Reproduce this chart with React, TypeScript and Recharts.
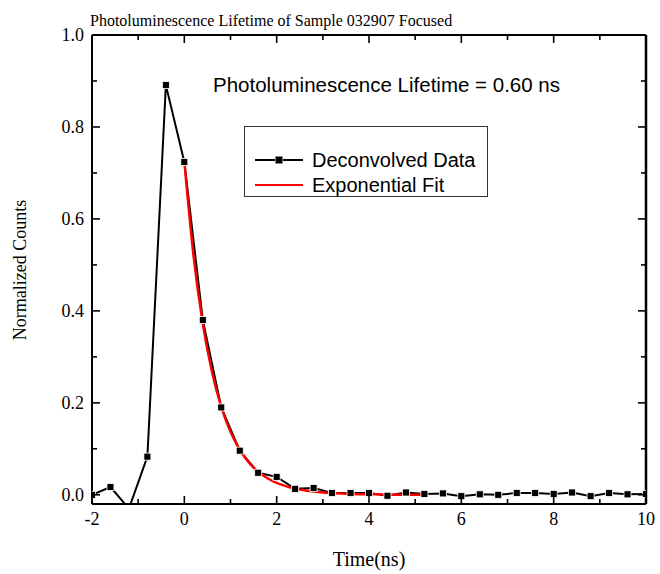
import { LineChart, Line, XAxis, YAxis } from 'recharts';

// deconvolved decay, sampled every 0.4 ns
const dataTimes = [-2, -1.6, -1.2, -0.8, -0.4, 0, 0.4, 0.8, 1.2, 1.6, 2, 2.4, 2.8, 3.2, 3.6, 4, 4.4, 4.8, 5.2, 5.6, 6, 6.4, 6.8, 7.2, 7.6, 8, 8.4, 8.8, 9.2, 9.6, 10];
const dataCounts = [0, 0.017, -0.03, 0.083, 0.891, 0.724, 0.38, 0.19, 0.096, 0.048, 0.039, 0.013, 0.015, 0.004, 0.004, 0.004, -0.002, 0.005, 0.002, 0.003, -0.003, 0.001, 0, 0.004, 0.004, 0.002, 0.005, -0.003, 0.004, 0.001, 0.002];

const fitTimes = [0, 0.2, 0.4, 0.6, 0.8, 1, 1.2, 1.4, 1.6, 1.8, 2, 2.2, 2.4, 2.6, 2.8, 3, 3.2, 3.4, 3.6, 3.8, 4, 4.2, 4.4, 4.6, 4.8, 5, 5.2];
const fitCounts = [0.725, 0.519, 0.372, 0.267, 0.191, 0.137, 0.098, 0.07, 0.05, 0.036, 0.026, 0.019, 0.013, 0.01, 0.007, 0.005, 0.004, 0.003, 0.002, 0.001, 0.001, 0.001, 0, 0, 0, 0, 0];

const xTicks = [-2, -1, 0, 1, 2, 3, 4, 5, 6, 7, 8, 9, 10];
const xLabels = ['-2', '0', '2', '4', '6', '8', '10'];
const yTicks = [0, 0.1, 0.2, 0.3, 0.4, 0.5, 0.6, 0.7, 0.8, 0.9, 1.0];
const yLabels = ['0.0', '0.2', '0.4', '0.6', '0.8', '1.0'];

const deconvolved = dataTimes.map((t, i) => ({ t, v: dataCounts[i] }));
const fit = fitTimes.map((t, i) => ({ t, v: fitCounts[i] }));

const SERIF = '"Liberation Serif", "Times New Roman", serif';
const SANS = '"Liberation Sans", Arial, sans-serif';

const isMajorX = (v: number) => xLabels.includes(String(v));
const isMajorY = (v: number) => yLabels.includes(v.toFixed(1));

// ticks point inward, Origin style
const BottomTick = ({ x, y, payload }: any) => {
  const major = isMajorX(payload.value);
  return (
    <g>
      <path d={`M${x},${y}V${y - (major ? 8 : 5)}`} stroke="#000" strokeWidth={1.6} />
      {major && (
        <text x={x} y={y + 21} textAnchor="middle" fontFamily={SERIF} fontSize={18} fill="#000">
          {String(payload.value)}
        </text>
      )}
    </g>
  );
};

const TopTick = ({ x, y, payload }: any) => {
  const major = isMajorX(payload.value);
  return <path d={`M${x},${y}V${y + (major ? 8 : 5)}`} stroke="#000" strokeWidth={1.6} />;
};

const LeftTick = ({ x, y, payload }: any) => {
  const major = isMajorY(payload.value);
  return (
    <g>
      <path d={`M${x},${y}H${x + (major ? 8 : 5)}`} stroke="#000" strokeWidth={1.6} />
      {major && (
        <text x={x - 8} y={y + 6} textAnchor="end" fontFamily={SERIF} fontSize={18} fill="#000">
          {payload.value.toFixed(1)}
        </text>
      )}
    </g>
  );
};

const RightTick = ({ x, y, payload }: any) => {
  const major = isMajorY(payload.value);
  return <path d={`M${x},${y}H${x - (major ? 8 : 5)}`} stroke="#000" strokeWidth={1.6} />;
};

const SquareDot = ({ cx, cy }: any) => {
  if (cx == null || cy == null) return null;
  return <rect x={cx - 3.5} y={cy - 3.5} width={7} height={7} fill="#000" stroke="#fff" strokeWidth={0.8} />;
};

const axisStroke = { stroke: '#000', strokeWidth: 2 };

export default function App() {
  return (
    <div style={{ position: 'absolute', left: 0, top: 0, width: 660, height: 574, background: '#fff' }}>
      <LineChart width={660} height={574} margin={{ top: 34, right: 13, left: 0, bottom: 0 }}>
        <XAxis xAxisId="bottom" dataKey="t" type="number" domain={[-2, 10]} ticks={xTicks} allowDataOverflow height={70}
          axisLine={axisStroke} tickLine={false} tickSize={0} tickMargin={0} tick={<BottomTick />} interval={0} />
        <XAxis xAxisId="top" orientation="top" dataKey="t" type="number" domain={[-2, 10]} ticks={xTicks} allowDataOverflow height={1}
          axisLine={axisStroke} tickLine={false} tickSize={0} tickMargin={0} tick={<TopTick />} interval={0} />
        <YAxis yAxisId="left" type="number" domain={[-0.02, 1.0]} ticks={yTicks} allowDataOverflow width={92}
          axisLine={axisStroke} tickLine={false} tickSize={0} tickMargin={0} tick={<LeftTick />} interval={0} />
        <YAxis yAxisId="right" orientation="right" type="number" domain={[-0.02, 1.0]} ticks={yTicks} allowDataOverflow width={1}
          axisLine={{ stroke: '#000', strokeWidth: 2.5 }} tickLine={false} tickSize={0} tickMargin={0} tick={<RightTick />} interval={0} />

        {/* invisible copy so the mirrored top/right axes get their scales */}
        <Line xAxisId="top" yAxisId="right" data={deconvolved} dataKey="v" stroke="none" dot={false} activeDot={false}
          legendType="none" isAnimationActive={false} />

        <Line xAxisId="bottom" yAxisId="left" data={deconvolved} dataKey="v" type="linear" stroke="#000" strokeWidth={2}
          dot={<SquareDot />} activeDot={false} isAnimationActive={false} />
        <Line xAxisId="bottom" yAxisId="left" data={fit} dataKey="v" type="monotone" stroke="#ff0000" strokeWidth={2.5}
          dot={false} activeDot={false} isAnimationActive={false} />
      </LineChart>

      {/* titles, annotation and legend drawn over the chart */}
      <svg width={660} height={574} style={{ position: 'absolute', left: 0, top: 0, pointerEvents: 'none' }}>
        <text x={90} y={26} fontFamily={SERIF} fontSize={16} fill="#000">
          Photoluminescence Lifetime of Sample 032907 Focused
        </text>
        <text x={213} y={92} fontFamily={SANS} fontSize={20.5} fill="#000">
          Photoluminescence Lifetime = 0.60 ns
        </text>
        <text transform="translate(26,270) rotate(-90)" textAnchor="middle" fontFamily={SERIF} fontSize={18} fill="#000">
          Normalized Counts
        </text>
        <text x={369} y={566} textAnchor="middle" fontFamily={SERIF} fontSize={20} fill="#000">
          Time(ns)
        </text>

        <rect x={244.5} y={126.5} width={243} height={70} fill="#fff" stroke="#333" strokeWidth={1} />
        <line x1={255} x2={275} y1={160} y2={160} stroke="#000" strokeWidth={2} />
        <line x1={283} x2={303} y1={160} y2={160} stroke="#000" strokeWidth={2} />
        <rect x={275.5} y={156.5} width={7} height={7} fill="#000" />
        <text x={312} y={167} fontFamily={SANS} fontSize={20} fill="#000">Deconvolved Data</text>
        <line x1={255} x2={303} y1={185} y2={185} stroke="#ff0000" strokeWidth={2} />
        <text x={312} y={192} fontFamily={SANS} fontSize={20} fill="#000">Exponential Fit</text>
      </svg>
    </div>
  );
}
